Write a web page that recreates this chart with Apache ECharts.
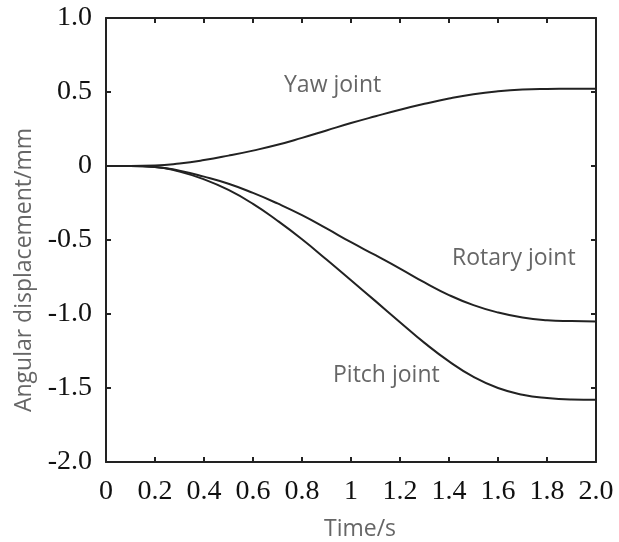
<!DOCTYPE html>
<html>
<head>
<meta charset="utf-8">
<script src="https://cdn.jsdelivr.net/npm/echarts@6/dist/echarts.min.js"></script>
<style>html,body{margin:0;padding:0;background:#fff}#c{width:619px;height:542px}</style>
</head>
<body>
<div id="c"></div>
<script>
var timeValues = [0, 0.1, 0.2, 0.3, 0.4, 0.5, 0.6, 0.7, 0.8, 0.9, 1.0, 1.1, 1.2, 1.3, 1.4, 1.5, 1.6, 1.7, 1.8, 1.9, 2.0];
var yawJoint = [0, 0, 0.003, 0.017, 0.04, 0.07, 0.104, 0.143, 0.19, 0.24, 0.29, 0.336, 0.38, 0.42, 0.456, 0.485, 0.505, 0.517, 0.521, 0.522, 0.522];
var rotaryJoint = [0, 0, -0.006, -0.032, -0.072, -0.12, -0.182, -0.253, -0.332, -0.422, -0.515, -0.603, -0.693, -0.787, -0.872, -0.94, -0.99, -1.024, -1.042, -1.048, -1.05];
var pitchJoint = [0, 0, -0.006, -0.038, -0.09, -0.162, -0.256, -0.37, -0.495, -0.632, -0.772, -0.913, -1.055, -1.195, -1.32, -1.425, -1.5, -1.545, -1.568, -1.578, -1.58];
var xTickLabels = ['0', '0.2', '0.4', '0.6', '0.8', '1', '1.2', '1.4', '1.6', '1.8', '2.0'];
var yTickLabels = ['-2.0', '-1.5', '-1.0', '-0.5', '0', '0.5', '1.0'];
var seriesNames = ['Yaw joint', 'Rotary joint', 'Pitch joint'];

function pairs(vals) {
  return timeValues.map(function (t, i) { return [t, vals[i]]; });
}

var chart = echarts.init(document.getElementById('c'));
var axisLineStyle = { color: '#222', width: 2 };
var tickStyle = { show: true, inside: true, length: 5, lineStyle: { color: '#222', width: 2 } };
var labelFont = { fontFamily: 'Liberation Serif', fontSize: 28, color: '#111' };
var titleFont = { fontFamily: 'Open Sans', fontSize: 23, color: '#666' };
var noteFont = '23px "Open Sans"';

function lineSeries(name, vals) {
  return {
    name: name, type: 'line', data: pairs(vals), smooth: 0.5,
    showSymbol: false, lineStyle: { color: '#222', width: 2 }, xAxisIndex: 0, yAxisIndex: 0
  };
}

chart.setOption({
  animation: false,
  grid: { left: 106, right: 23, top: 18, bottom: 80, outerBoundsMode: 'none', containLabel: false },
  xAxis: [{
    type: 'value', min: 0, max: 2, interval: 0.2,
    axisLine: { onZero: false, lineStyle: axisLineStyle }, axisTick: tickStyle, splitLine: { show: false },
    axisLabel: Object.assign({ margin: 16, formatter: function (v) { return xTickLabels[Math.round(v / 0.2)]; } }, labelFont),
    name: 'Time/s', nameLocation: 'middle', nameGap: 56, nameTextStyle: Object.assign({ padding: [0, 0, 0, 18] }, titleFont)
  }, {
    type: 'value', min: 0, max: 2, interval: 0.2, position: 'top',
    axisLine: { onZero: false, lineStyle: axisLineStyle }, axisTick: tickStyle, axisLabel: { show: false }, splitLine: { show: false }
  }],
  yAxis: [{
    type: 'value', min: -2, max: 1, interval: 0.5,
    axisLine: { onZero: false, lineStyle: axisLineStyle }, axisTick: tickStyle, splitLine: { show: false },
    axisLabel: Object.assign({ margin: 14, formatter: function (v) { return yTickLabels[Math.round((v + 2) / 0.5)]; } }, labelFont),
    name: 'Angular displacement/mm', nameLocation: 'middle', nameGap: 70, nameTextStyle: Object.assign({ padding: [0, 60, 0, 0] }, titleFont)
  }, {
    type: 'value', min: -2, max: 1, interval: 0.5, position: 'right',
    axisLine: { onZero: false, lineStyle: axisLineStyle }, axisTick: tickStyle, axisLabel: { show: false }, splitLine: { show: false }
  }],
  series: [
    lineSeries(seriesNames[0], yawJoint),
    lineSeries(seriesNames[1], rotaryJoint),
    lineSeries(seriesNames[2], pitchJoint)
  ],
  graphic: [
    { type: 'text', left: 284, top: 74, style: { text: seriesNames[0], font: noteFont, fill: '#666' } },
    { type: 'text', left: 452, top: 247, style: { text: seriesNames[1], font: noteFont, fill: '#666' } },
    { type: 'text', left: 333, top: 364, style: { text: seriesNames[2], font: noteFont, fill: '#666' } }
  ]
});
</script>
</body>
</html>
